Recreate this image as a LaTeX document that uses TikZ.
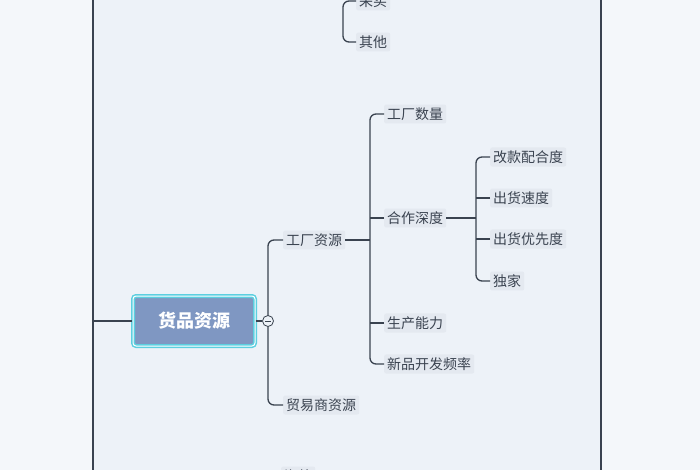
\documentclass[tikz,border=0pt]{standalone}
\usepackage{fontspec}
\newfontfamily\cjk{Noto Sans CJK SC}
\usetikzlibrary{positioning}
\definecolor{bgpanel}{HTML}{EDF2F8}
\definecolor{bgout}{HTML}{F4F7FA}
\definecolor{linec}{HTML}{3A4350}
\definecolor{leaff}{HTML}{E4E9F0}
\definecolor{rootf}{HTML}{7F97C2}
\definecolor{rootb}{HTML}{5CCFE0}
\tikzset{
		leaf/.style={fill=leaff, rounded corners=2pt, inner sep=3pt, font=\cjk\fontsize{14}{16}\selectfont, text=linec},
		conn/.style={draw=linec, line width=1.3pt, rounded corners=6pt}
	}
\begin{document}
\begin{tikzpicture}[x=1pt,y=-1pt]
          \useasboundingbox (0,0) rectangle (700,470);
          \fill[bgout] (0,0) rectangle (700,470);
          \fill[bgpanel] (93,0) rectangle (601,470);
          \draw[linec, line width=1.5pt] (601,0) -- (601,470);

          % root branch
          \node[fill=rootf, draw=rootb, line width=1.5pt, double=white, double distance=1pt,
                rounded corners=3pt, minimum width=122, minimum height=50,
                font=\cjk\bfseries\fontsize{18}{20}\selectfont, text=white] (goods) at (194,321) {货品资源};
          \draw[conn] (93,0) -- (93,470);
          \draw[conn, rounded corners=0pt] (93,321) -- (goods.west);

          % top, partly cut off
          \begin{scope}
            \clip (0,0) rectangle (700,470);
            \node[leaf, anchor=west] (buy) at (356,1) {采买};
            \node[leaf, anchor=west] (other) at (356,42) {其他};
            \node[leaf, anchor=west] (sea) at (281,476) {海外};
          \end{scope}
          \draw[conn] (buy.west) -- (343,1) |- (other.west);

          % factory level
          \node[leaf, anchor=west] (factory) at (283,240) {工厂资源};
          \node[leaf, anchor=west] (trader) at (283,405) {贸易商资源};
          \draw[conn] (factory.west) -| (268,321) |- (trader.west);
          \draw[linec, line width=1.3pt] (goods.east) -- (262,321);
          \draw[linec, fill=bgpanel, line width=0.8pt] (268,321) circle (5.5);
          \draw[linec, line width=1pt] (265,321) -- (271,321);

          \node[leaf, anchor=west] (count) at (384,114) {工厂数量};
          \node[leaf, anchor=west] (depth) at (384,218) {合作深度};
          \node[leaf, anchor=west] (capacity) at (384,323) {生产能力};
          \node[leaf, anchor=west] (newfreq) at (384,364) {新品开发频率};
          \draw[conn] (factory.east) -- (370,240);
          \draw[conn] (count.west) -| (370,240) |- (newfreq.west);
          \draw[conn] (depth.west) -- (370,218);
          \draw[conn] (capacity.west) -- (370,323);

          \node[leaf, anchor=west] (change) at (490,157) {改款配合度};
          \node[leaf, anchor=west] (speed) at (490,198) {出货速度};
          \node[leaf, anchor=west] (prio) at (490,239) {出货优先度};
          \node[leaf, anchor=west] (excl) at (490,281) {独家};
          \draw[conn] (depth.east) -- (476,218);
          \draw[conn] (change.west) -| (476,218) |- (excl.west);
          \draw[conn] (speed.west) -- (476,198);
          \draw[conn] (prio.west) -- (476,239);
\end{tikzpicture}
\end{document}
